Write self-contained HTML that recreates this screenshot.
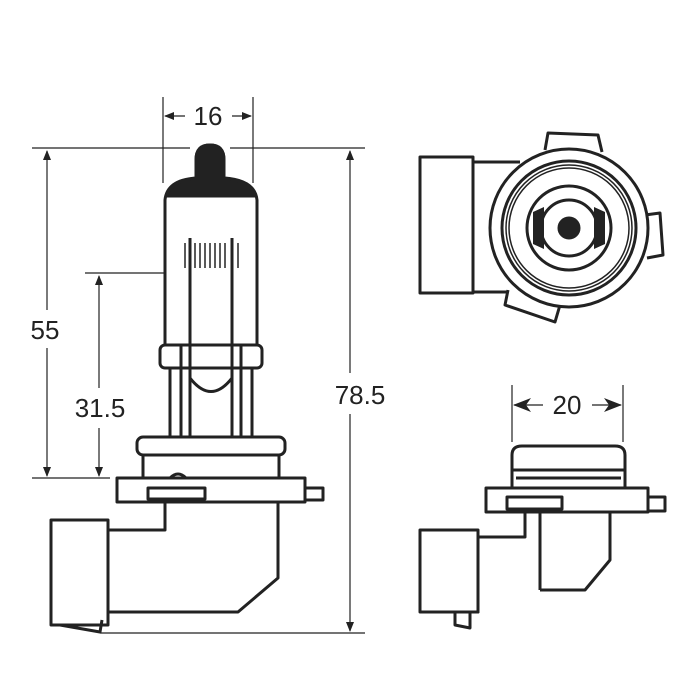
<!DOCTYPE html>
<html><head><meta charset="utf-8"><style>body{margin:0;background:#fff}svg{display:block}</style></head><body>
<svg width="700" height="700" viewBox="0 0 700 700" xmlns="http://www.w3.org/2000/svg" font-family="Liberation Sans, sans-serif">
<defs>
<marker id="a" markerWidth="10" markerHeight="8" refX="9" refY="4" orient="auto" markerUnits="userSpaceOnUse"><path d="M0,0 L10,4 L0,8 Z" fill="#222"/></marker>
<marker id="b" markerWidth="18" markerHeight="14" refX="17" refY="7" orient="auto" markerUnits="userSpaceOnUse"><path d="M0,0 L18,7 L0,14 L5,7 Z" fill="#222"/></marker>
</defs>
<g stroke="#222" stroke-width="1.2" fill="none">
<line x1="32" y1="148" x2="190" y2="148"/><line x1="230" y1="148" x2="365" y2="148"/>
<line x1="163" y1="97" x2="163" y2="183"/><line x1="253" y1="97" x2="253" y2="183"/>
<line x1="185" y1="116" x2="165" y2="116" marker-end="url(#a)"/><line x1="232" y1="116" x2="251" y2="116" marker-end="url(#a)"/>
<line x1="47" y1="310" x2="47" y2="151" marker-end="url(#a)"/><line x1="47" y1="348" x2="47" y2="476" marker-end="url(#a)"/>
<line x1="32" y1="478" x2="110" y2="478"/>
<line x1="85" y1="273" x2="180" y2="273"/>
<line x1="99" y1="388" x2="99" y2="276" marker-end="url(#a)"/><line x1="99" y1="428" x2="99" y2="476" marker-end="url(#a)"/>
<line x1="350" y1="373" x2="350" y2="151" marker-end="url(#a)"/><line x1="350" y1="414" x2="350" y2="631" marker-end="url(#a)"/>
<line x1="100" y1="633" x2="365" y2="633"/>
<line x1="512" y1="385" x2="512" y2="442"/><line x1="623" y1="385" x2="623" y2="442"/>
<line x1="543" y1="405" x2="514" y2="405" marker-end="url(#b)"/><line x1="592" y1="405" x2="621" y2="405" marker-end="url(#b)"/>
</g>
<g fill="#222" font-size="26">
<text x="208" y="125" text-anchor="middle">16</text>
<text x="45" y="339" text-anchor="middle">55</text>
<text x="100" y="417" text-anchor="middle">31.5</text>
<text x="360" y="404" text-anchor="middle">78.5</text>
<text x="567" y="414" text-anchor="middle">20</text>
</g>
<g stroke="#222" stroke-width="3" fill="none" stroke-linejoin="round">
<path d="M196,178 L196,160 Q196,145 210,145 Q224,145 224,160 L224,178 Q255,180 257,200 L257,345 L165,345 L165,200 Q167,180 196,178 Z" fill="#fff"/>
<path d="M196,178 L196,160 Q196,145 210,145 Q224,145 224,160 L224,178 Q250,181 256,196 L166,196 Q172,181 196,178 Z" fill="#222"/>
<rect x="160" y="345" width="102" height="23" rx="5"/>
<line x1="170" y1="368" x2="170" y2="437"/><line x1="181" y1="345" x2="181" y2="437"/><line x1="190" y1="238" x2="190" y2="437"/>
<line x1="232" y1="238" x2="232" y2="437"/><line x1="241" y1="345" x2="241" y2="437"/><line x1="252" y1="368" x2="252" y2="437"/>
<path d="M190,378 Q211,405 232,378"/>
<rect x="137" y="437" width="148" height="18" rx="6"/>
<rect x="143" y="455" width="136" height="23"/>
<path d="M117,478 L170,478 Q178,470 186,478 L305,478 L305,502 L117,502 Z"/>
<rect x="305" y="488" width="18" height="12"/>
<rect x="148" y="488" width="57" height="11"/>
<path d="M165,502 L165,530 L108,530 M278,502 L278,578 L238,612 L108,612"/>
<rect x="51" y="520" width="57" height="105"/>
<path d="M60,625 L100,632 L102,620"/>
</g>
<g stroke="#222" stroke-width="1.5" fill="none">
<line x1="185" y1="243" x2="185" y2="268"/><line x1="190" y1="243" x2="190" y2="268"/><line x1="195" y1="243" x2="195" y2="268"/><line x1="200" y1="243" x2="200" y2="268"/><line x1="205" y1="243" x2="205" y2="268"/><line x1="210" y1="243" x2="210" y2="268"/><line x1="215" y1="243" x2="215" y2="268"/><line x1="220" y1="243" x2="220" y2="268"/><line x1="225" y1="243" x2="225" y2="268"/><line x1="238" y1="243" x2="238" y2="268"/>
</g>
<g stroke="#222" stroke-width="3" fill="none" stroke-linejoin="round">
<path d="M545,150 L548,133 L598,135 L602,152"/>
<path d="M645,215 L660,213 L663,255 L647,258"/>
<path d="M508,290 L505,305 L555,322 L560,305"/>
<path d="M473,162 L520,162 M473,292 L508,292"/>
<rect x="420" y="157" width="53" height="136"/>
<circle cx="569" cy="228" r="79" fill="#fff"/>
<circle cx="569" cy="228" r="67"/>
<circle cx="569" cy="228" r="42"/>
<circle cx="569" cy="228" r="28"/>
<circle cx="569" cy="228" r="10" fill="#222"/>
</g>
<g stroke="#222" stroke-width="1.5" fill="none"><circle cx="569" cy="228" r="63"/><circle cx="569" cy="228" r="60"/></g>
<path d="M533,212 L544,207 L544,249 L533,244 Z M605,212 L594,207 L594,249 L605,244 Z" fill="#222"/>
<g stroke="#222" stroke-width="3" fill="none" stroke-linejoin="round">
<path d="M512,488 L512,455 Q512,446 522,446 L615,446 Q625,446 625,455 L625,488"/>
<line x1="512" y1="470" x2="625" y2="470"/><line x1="516" y1="478" x2="621" y2="478"/>
<rect x="486" y="488" width="162" height="24"/>
<rect x="648" y="497" width="17" height="14"/>
<rect x="507" y="497" width="55" height="12"/>
<path d="M525,512 L525,537 L478,537 M610,512 L610,560 L585,590 L540,590 M540,512 L540,590"/>
<path d="M478,537 L478,612 L455,612 L455,625 L470,628 L470,612"/>
<rect x="420" y="530" width="58" height="82"/>
</g>
</svg>
</body></html>
